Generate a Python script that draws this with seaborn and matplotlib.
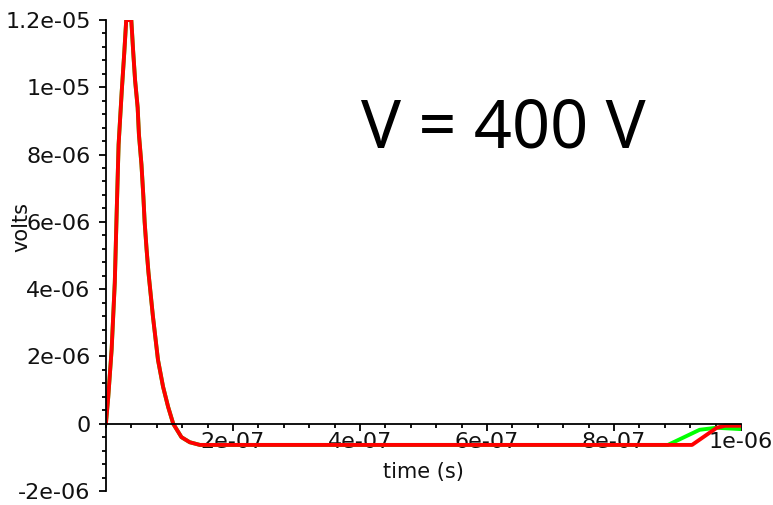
import numpy as np
import pandas as pd
import matplotlib
matplotlib.use("Agg")
import matplotlib.pyplot as plt
import seaborn as sns

# Pulse response shared by both traces (time in s, voltage in V)
t_pulse = [0.0, 0.36e-8, 0.9e-8, 1.4e-8, 1.7e-8, 2.0e-8, 2.5e-8, 2.9e-8, 3.2e-8,
           4.0e-8, 4.3e-8, 4.6e-8, 5.0e-8, 5.2e-8, 5.6e-8, 5.9e-8, 6.1e-8, 6.4e-8,
           6.7e-8, 7.4e-8, 8.2e-8, 9.0e-8, 9.8e-8, 10.6e-8, 11.9e-8, 13.2e-8, 14.8e-8]
v_pulse = [0.0, 0.77e-6, 2.2e-6, 4.2e-6, 6.3e-6, 8.3e-6, 9.9e-6, 11.05e-6, 12.0e-6,
           12.0e-6, 11.05e-6, 10.2e-6, 9.4e-6, 8.6e-6, 7.7e-6, 6.75e-6, 6.0e-6, 5.2e-6,
           4.5e-6, 3.2e-6, 1.9e-6, 1.1e-6, 0.5e-6, 0.0, -0.4e-6, -0.55e-6, -0.63e-6]

# Tails where the two traces separate
t_green_tail = [0.885e-6, 0.935e-6, 0.961e-6, 1.0e-6]
v_green_tail = [-0.63e-6, -0.18e-6, -0.12e-6, -0.16e-6]
t_red_tail = [0.923e-6, 0.962e-6, 0.975e-6, 1.0e-6]
v_red_tail = [-0.63e-6, -0.12e-6, -0.06e-6, -0.06e-6]

x_ticks = [2e-7, 4e-7, 6e-7, 8e-7, 1e-6]
x_tick_labels = ["2e-07", "4e-07", "6e-07", "8e-07", "1e-06"]
y_ticks = [-2e-6, 0, 2e-6, 4e-6, 6e-6, 8e-6, 1e-5, 1.2e-5]
y_tick_labels = ["-2e-06", "0", "2e-06", "4e-06", "6e-06", "8e-06", "1e-05", "1.2e-05"]

green = pd.DataFrame({"t": t_pulse + t_green_tail, "v": v_pulse + v_green_tail})
red = pd.DataFrame({"t": t_pulse + t_red_tail, "v": v_pulse + v_red_tail})

sns.set_style("white")
plt.rcParams["font.family"] = ["DejaVu Sans"]

fig = plt.figure(figsize=(7.73, 5.05), dpi=100)
ax = fig.add_axes([0.137, 0.0277, 0.8215, 0.9327])

sns.lineplot(data=green, x="t", y="v", ax=ax, color="#00ff00", lw=2.8,
             sort=False, estimator=None)
sns.lineplot(data=red, x="t", y="v", ax=ax, color="#ff0000", lw=2.8,
             sort=False, estimator=None)

ax.set_xlim(0, 1e-6)
ax.set_ylim(-2e-6, 1.2e-5)

for side in ("top", "right"):
    ax.spines[side].set_visible(False)
ax.spines["bottom"].set_position(("data", 0))
ax.spines["left"].set_position(("data", 0))
for side in ("bottom", "left"):
    ax.spines[side].set_color("black")
    ax.spines[side].set_linewidth(1.3)

ax.set_xticks(x_ticks)
ax.set_xticklabels(x_tick_labels)
ax.set_yticks(y_ticks)
ax.set_yticklabels(y_tick_labels)
ax.set_xticks(np.arange(0, 1.0001e-6, 4e-8), minor=True)
ax.set_yticks(np.arange(-2e-6, 1.20001e-5, 4e-7), minor=True)

ax.tick_params(bottom=True, left=True, top=False, right=False, which="both")
ax.tick_params(axis="both", which="major", direction="out", length=5, width=1.3,
               color="black", labelsize=16, labelcolor="#111111")
ax.tick_params(axis="both", which="minor", direction="out", length=3, width=1.3,
               color="black")
ax.tick_params(axis="x", which="major", pad=1)
ax.tick_params(axis="y", which="major", pad=6)

ax.set_xlabel("time (s)", fontsize=15, color="#111111")
ax.xaxis.set_label_coords(0.5, 0.062)
ax.set_ylabel("volts", fontsize=15, color="#111111")
ax.yaxis.set_label_coords(-0.118, 0.56)

ax.text(503 / 773, 1 - 129 / 505, "V = 400 V", transform=fig.transFigure,
        ha="center", va="center", fontsize=48, color="black",
        family=["Noto Sans", "DejaVu Sans"])

fig.savefig("out.png", dpi=100)
